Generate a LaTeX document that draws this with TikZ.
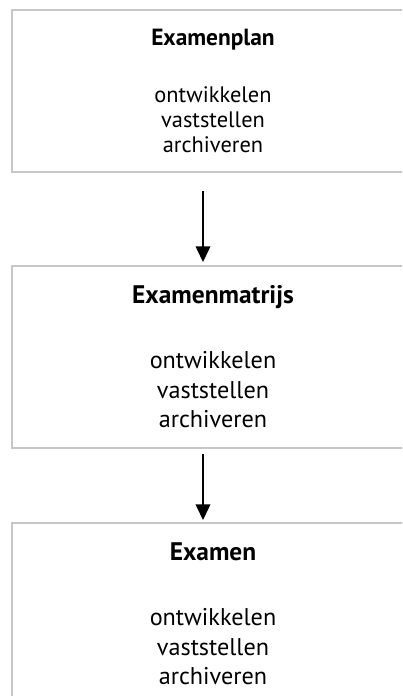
\documentclass[tikz,border=0pt]{standalone}
\usepackage{fontspec}
\setmainfont{PT Sans}
\usetikzlibrary{positioning,arrows.meta}

\tikzset{
stage/.style={draw=black!22, line width=1pt, minimum width=201pt, align=center, inner sep=0pt},
flow/.style={-{Triangle[length=7.8pt,width=7.3pt]}, line width=0.8pt},
}
\newcommand{\smalltxt}{\fontsize{11.2}{12.5}\selectfont}
\newcommand{\largetxt}{\fontsize{12.1}{14.75}\selectfont}
\newcommand{\smallhead}[1]{{\fontsize{11.7}{12.5}\selectfont\bfseries #1}}
\newcommand{\largehead}[1]{{\fontsize{12.7}{14.75}\selectfont\bfseries #1}}

\begin{document}
\begin{tikzpicture}[x=0.5pt,y=-0.5pt]
\useasboundingbox (0,0) rectangle (402,696);
\clip (0,0) rectangle (402,696);

\node[stage, minimum height=81pt, font=\smalltxt] (plan) at (213,91)
  {\smallhead{Examenplan}\\[16pt] ontwikkelen\\ vaststellen\\ archiveren};
\node[stage, minimum height=91pt, font=\largetxt] (matrijs) at (213,357)
  {\largehead{Examenmatrijs}\\[17.75pt] ontwikkelen\\ vaststellen\\ archiveren};
\node[stage, minimum height=91pt, font=\largetxt] (examen) at (213,614)
  {\largehead{Examen}\\[17.75pt] ontwikkelen\\ vaststellen\\ archiveren};

\draw[flow] ([xshift=-5pt,yshift=-9pt]plan.south) -- ([xshift=-5pt,yshift=1.5pt]matrijs.north);
\draw[flow] ([xshift=-5pt,yshift=-2.5pt]matrijs.south) -- ([xshift=-5pt,yshift=1pt]examen.north);
\end{tikzpicture}
\end{document}
